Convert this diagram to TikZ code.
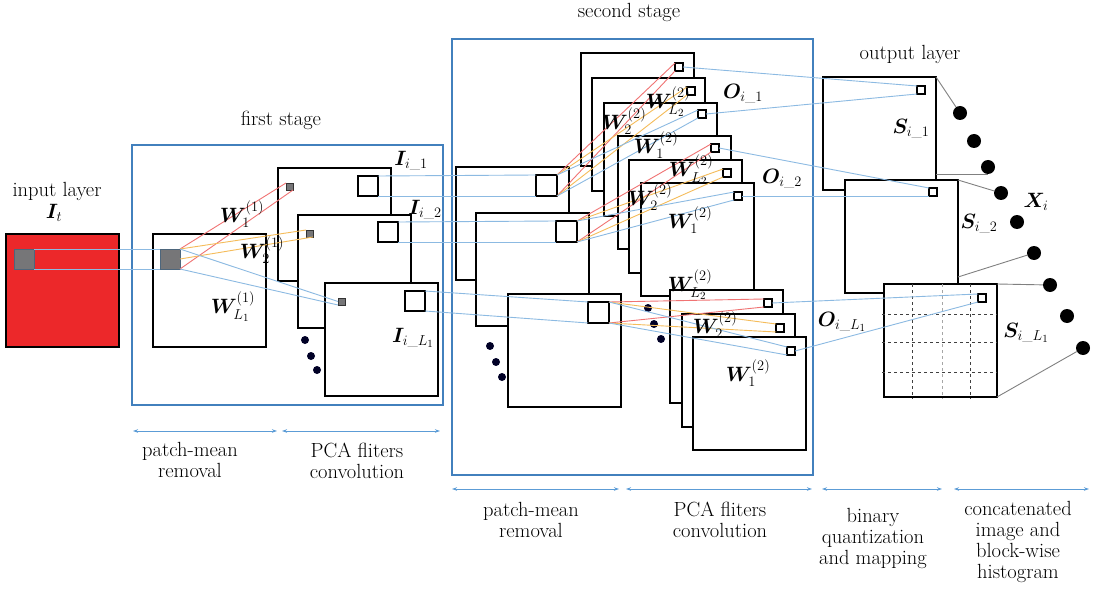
\documentclass[tikz,border=0pt]{standalone}
\usepackage{amsmath,bm}
\usepackage{fontspec}
\setmainfont{Latin Modern Roman}
\usetikzlibrary{arrows.meta,positioning}

\definecolor{stageblue}{RGB}{66,128,189}
\definecolor{linkblue}{RGB}{140,186,226}
\definecolor{linkred}{RGB}{240,115,115}
\definecolor{linkorange}{RGB}{245,188,90}
\definecolor{arrowblue}{RGB}{92,156,214}
\definecolor{inred}{RGB}{236,40,42}
\definecolor{patchgray}{RGB}{118,118,120}

\tikzset{
  fmap/.style={draw, line width=1.6pt, fill=white, inner sep=0pt, outer sep=0pt, minimum size=113pt, anchor=north west},
  bigpatch/.style={draw, line width=1.6pt, fill=white, inner sep=0pt, outer sep=0pt, minimum size=20pt, anchor=north west},
  pixel/.style={draw, line width=1.2pt, fill=white, inner sep=0pt, outer sep=0pt, minimum size=8pt, anchor=north west},
  graypix/.style={draw=black!80, line width=0.8pt, fill=patchgray, inner sep=0pt, outer sep=0pt, minimum size=7pt, anchor=north west},
  graypatch/.style={draw=black!45!linkblue, line width=0.9pt, fill=patchgray, inner sep=0pt, outer sep=0pt, minimum size=20pt, anchor=north west},
  stagebox/.style={draw=stageblue, line width=2.6pt},
  bluelink/.style={draw=linkblue, line width=0.9pt},
  redlink/.style={draw=linkred, line width=0.9pt},
  orangelink/.style={draw=linkorange, line width=0.9pt},
  graylink/.style={draw=black!50, line width=0.9pt},
  stagespan/.style={{Stealth[length=5pt,width=3.5pt]}-{Stealth[length=5pt,width=3.5pt]}, draw=arrowblue, line width=1pt},
  vecdot/.style={circle, fill=black, inner sep=0pt, minimum size=14pt},
  mapdot/.style={circle, fill=black!85!blue, inner sep=0pt, minimum size=8pt},
  gridline/.style={draw=black!75, dashed, line width=0.7pt},
  lab/.style={font=\fontsize{20.5}{21}\selectfont, align=center, inner sep=0pt},
  mlab/.style={font=\fontsize{21}{24}\selectfont, inner sep=0pt},
}

\begin{document}
\begin{tikzpicture}[x=1pt,y=-1pt]
  \useasboundingbox (0,0) rectangle (1101,591);

  % Input layer
  \node[fmap, fill=inred] (input) at (6,234) {};
  \node[graypatch] (ip) at (14,249) {};
  \node[lab] (inputlab) at (57,191) {input layer};
  \node[mlab] (It) at (54,213) {$\bm{I}_t$};

  % First stage
  \draw[stagebox] (132,145) rectangle (443,405);
  \node[lab] (firstlab) at (281,120) {first stage};
  \node[fmap] (A) at (153,234) {};
  \node[graypatch] (ap) at (160,249) {};
  \node[fmap] (I1) at (278,168) {};
  \node[graypix] (p1) at (286,183) {};
  \node[bigpatch] (b1) at (358,176) {};
  \node[fmap] (I2) at (298,215) {};
  \node[graypix] (p2) at (306,230) {};
  \node[bigpatch] (b2) at (378,222) {};
  \node[fmap] (I3) at (325,283) {};
  \node[graypix] (p3) at (338,298) {};
  \node[bigpatch] (b3) at (405,291) {};
  \foreach \x/\y in {305/340, 311/356, 317/370}
    \node[mapdot] at (\x,\y) {};

  % Second stage
  \draw[stagebox] (452,39) rectangle (813,475);
  \node[lab] (secondlab) at (629,12) {second stage};
  \node[fmap] (S2a) at (456,167) {};
  \node[bigpatch, minimum size=21pt] (c1) at (536,175) {};
  \node[fmap] (S2b) at (476,213) {};
  \node[bigpatch, minimum size=21pt] (c2) at (556,221) {};
  \node[fmap] (S2c) at (508,294) {};
  \node[bigpatch, minimum size=21pt] (c3) at (588,302) {};
  \foreach \x/\y in {490/346, 496/362, 502/377}
    \node[mapdot] at (\x,\y) {};

  \node[fmap] (G1a) at (581,53) {};
  \node[pixel] (q1a) at (675,63) {};
  \node[fmap] (G1b) at (592,78) {};
  \node[pixel] (q1b) at (687,87) {};
  \node[fmap] (G1c) at (604,103) {};
  \node[pixel] (q1c) at (698,110) {};
  \node[fmap] (G2a) at (618,136) {};
  \node[pixel] (q2a) at (711,144) {};
  \node[fmap] (G2b) at (629,160) {};
  \node[pixel] (q2b) at (723,169) {};
  \node[fmap] (G2c) at (641,183) {};
  \node[pixel] (q2c) at (734,192) {};
  \node[fmap] (G3a) at (670,290) {};
  \node[pixel] (q3a) at (764,299) {};
  \node[fmap] (G3b) at (682,314) {};
  \node[pixel] (q3b) at (776,324) {};
  \node[fmap] (G3c) at (693,337) {};
  \node[pixel] (q3c) at (787,347) {};
  \foreach \x/\y in {648/308, 654/324, 661/339}
    \node[mapdot] at (\x,\y) {};

  % Output layer
  \node[lab] (outlab) at (910,54) {output layer};
  \node[fmap] (O1) at (823,77) {};
  \node[pixel] (o1) at (917,86) {};
  \node[fmap] (O2) at (845,180) {};
  \node[pixel] (o2) at (929,188) {};
  \node[fmap] (O3) at (884,284) {};
  \foreach \y in {314, 342, 372}
    \draw[gridline] (882,\y) -- (997,\y);
  \foreach \x/\c in {912/black!75, 942/black!35, 970/black!75}
    \draw[gridline, draw=\c] (\x,284) -- (\x,399);
  \node[pixel] (o3) at (978,294) {};

  \node[vecdot] (d1) at (960,113) {};
  \node[vecdot] (d2) at (974,141) {};
  \node[vecdot] (d3) at (988,167) {};
  \node[vecdot] (d4) at (1001,193) {};
  \node[vecdot] (d5) at (1017,222) {};
  \node[vecdot] (d6) at (1034,253) {};
  \node[vecdot] (d7) at (1050,285) {};
  \node[vecdot] (d8) at (1067,316) {};
  \node[vecdot] (d9) at (1083,348) {};

  % Links of the first stage
  \draw[bluelink] (ip.north east) -- (ap.north west);
  \draw[bluelink] (ip.south east) -- (ap.south west);
  \draw[redlink] (ap.north east) -- (p1.north west);
  \draw[redlink] (ap.south east) -- (p1.south east);
  \draw[orangelink] (ap.north east) -- (p2.north west);
  \draw[orangelink] (ap.east) -- (p2.south east);
  \draw[bluelink] (ap.north east) -- (p3.west);
  \draw[bluelink] (ap.south east) -- (p3.south west);

  % Links into the second stage
  \draw[bluelink] (b1.north east) -- (c1.north west);
  \draw[bluelink] (b1.south east) -- (c1.south west);
  \draw[bluelink] (b2.north east) -- (c2.north west);
  \draw[bluelink] (b2.south east) -- (c2.south west);
  \draw[bluelink] (b3.north east) -- (c3.north west);
  \draw[bluelink] (b3.south east) -- (c3.south west);

  \draw[redlink] (c1.north east) -- (q1a.north west);
  \draw[redlink] (c1.south east) -- (q1a.south west);
  \draw[orangelink] (c1.north east) -- (q1b.north west);
  \draw[orangelink] (c1.south east) -- (q1b.south west);
  \draw[bluelink] (c1.north east) -- (q1c.north west);
  \draw[bluelink] (c1.south east) -- (q1c.south west);

  \draw[redlink] (c2.north east) -- (q2a.north west);
  \draw[redlink] (c2.south east) -- (q2a.south west);
  \draw[orangelink] (c2.north east) -- (q2b.north west);
  \draw[orangelink] (c2.south east) -- (q2b.south west);
  \draw[bluelink] (c2.north east) -- (q2c.north west);
  \draw[bluelink] (c2.south east) -- (q2c.south west);

  \draw[redlink] (c3.north east) -- (q3a.north west);
  \draw[redlink] (c3.south east) -- (q3a.south west);
  \draw[orangelink] (c3.north east) -- (q3b.north west);
  \draw[orangelink] (c3.south east) -- (q3b.south west);
  \draw[bluelink] (c3.north east) -- (q3c.north west);
  \draw[bluelink] (c3.south east) -- (q3c.south west);

  % Links into the output layer
  \draw[bluelink] (q1a.east) -- (o1.north west);
  \draw[bluelink] (q1c.east) -- (o1.south west);
  \draw[bluelink] (q2a.east) -- (o2.north west);
  \draw[bluelink] (q2c.east) -- (o2.south west);
  \draw[bluelink] (q3a.east) -- (o3.north west);
  \draw[bluelink] (q3c.east) -- (o3.south west);

  \draw[graylink] (O1.north east) -- (d1);
  \draw[graylink] (O1.south east |- d3.south) -- (d3.south);
  \draw[graylink] (O2.north east) -- (d4);
  \draw[graylink] ([yshift=16pt]O2.south east) -- (d6);
  \draw[graylink] (O3.north east) -- (d7);
  \draw[graylink] (O3.south east) -- (d9);

  % Labels
  \node[mlab] (w11) at (242,214) {$\bm{W}^{(1)}_1$};
  \node[mlab] (w21) at (262,250) {$\bm{W}^{(1)}_2$};
  \node[mlab] (wl1) at (233,307) {$\bm{W}^{(1)}_{L_1}$};
  \node[mlab] (Ii1) at (411,161) {$\bm{I}_{i\_1}$};
  \node[mlab] (Ii2) at (425,210) {$\bm{I}_{i\_2}$};
  \node[mlab] (IiL) at (413,338) {$\bm{I}_{i\_L_1}$};

  \node[mlab] (w2a) at (624,121) {$\bm{W}^{(2)}_2$};
  \node[mlab] (wla) at (668,102) {$\bm{W}^{(2)}_{L_2}$};
  \node[mlab] (w1a) at (656,145) {$\bm{W}^{(2)}_1$};
  \node[mlab] (wlb) at (691,170) {$\bm{W}^{(2)}_{L_2}$};
  \node[mlab] (w2b) at (650,197) {$\bm{W}^{(2)}_2$};
  \node[mlab] (w1b) at (690,220) {$\bm{W}^{(2)}_1$};
  \node[mlab] (wlc) at (690,285) {$\bm{W}^{(2)}_{L_2}$};
  \node[mlab] (w2c) at (715,325) {$\bm{W}^{(2)}_2$};
  \node[mlab] (w1c) at (748,373) {$\bm{W}^{(2)}_1$};
  \node[mlab] (Oi1) at (743,94) {$\bm{O}_{i\_1}$};
  \node[mlab] (Oi2) at (782,179) {$\bm{O}_{i\_2}$};
  \node[mlab] (OiL) at (842,322) {$\bm{O}_{i\_L_1}$};

  \node[mlab] (Si1) at (911,129) {$\bm{S}_{i\_1}$};
  \node[mlab] (Si2) at (979,224) {$\bm{S}_{i\_2}$};
  \node[mlab] (SiL) at (1026,333) {$\bm{S}_{i\_L_1}$};
  \node[mlab] (Xi) at (1036,202) {$\bm{X}_i$};

  % Stage spans
  \coordinate (r1a) at (133,431);
  \coordinate (r1b) at (277,431);
  \coordinate (r1c) at (282,431);
  \coordinate (r1d) at (440,431);
  \draw[stagespan] (r1a) -- (r1b);
  \draw[stagespan] (r1c) -- (r1d);
  \node[lab] (pm1) at (190,460) {patch-mean\\removal};
  \node[lab] (pca1) at (357,461) {PCA fliters\\convolution};

  \coordinate (r2a) at (452,489);
  \coordinate (r2b) at (619,489);
  \coordinate (r2c) at (626,489);
  \coordinate (r2d) at (812,489);
  \coordinate (r2e) at (822,489);
  \coordinate (r2f) at (942,489);
  \coordinate (r2g) at (954,489);
  \coordinate (r2h) at (1089,489);
  \draw[stagespan] (r2a) -- (r2b);
  \draw[stagespan] (r2c) -- (r2d);
  \draw[stagespan] (r2e) -- (r2f);
  \draw[stagespan] (r2g) -- (r2h);
  \node[lab] (pm2) at (531,520) {patch-mean\\removal};
  \node[lab] (pca2) at (720,520) {PCA fliters\\convolution};
  \node[lab] (bin) at (873,538) {binary\\quantization\\and mapping};
  \node[lab] (hist) at (1018,542) {concatenated\\image and\\block-wise\\histogram};
\end{tikzpicture}
\end{document}
